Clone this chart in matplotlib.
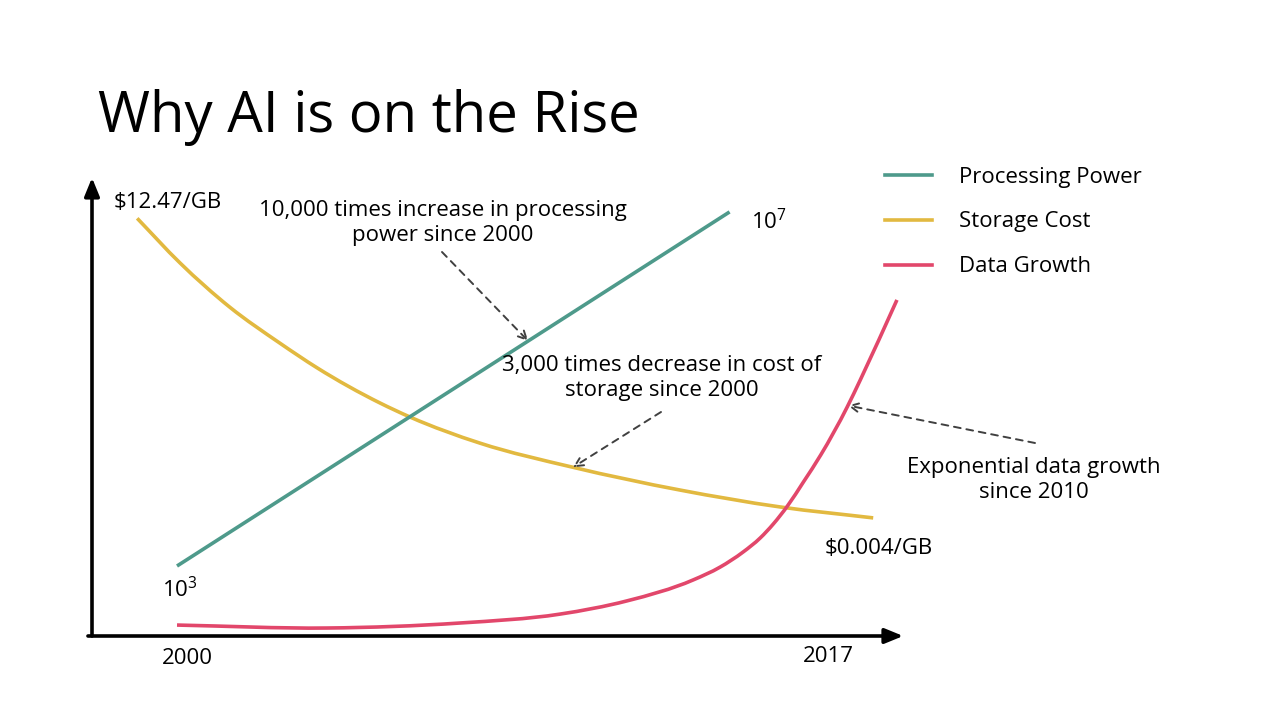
import matplotlib
matplotlib.use("Agg")
import matplotlib.pyplot as plt
from matplotlib.path import Path
from matplotlib.patches import PathPatch
import numpy as np

plt.rcParams['font.family'] = ['Open Sans', 'DejaVu Sans']
plt.rcParams['mathtext.fontset'] = 'custom'
plt.rcParams['mathtext.rm'] = 'Open Sans'

# Series (years, relative level on a 0-100 schematic scale)
power_years = [2000.0, 2014.43]
power_level = [15.35, 93.0]

storage_years = [1998.96, 2000.08, 2001.38, 2002.69, 2003.66, 2005.30, 2006.09,
                 2007.91, 2010.34, 2013.14, 2015.75, 2018.18]
storage_level = [91.6, 81.8, 72.1, 64.2, 58.8, 51.1, 48.0, 42.3, 37.0, 32.0, 28.3, 25.9]

data_years = [2000.0, 2003.92, 2007.39, 2010.0, 2011.75, 2013.48, 2014.18, 2014.78,
              2015.23, 2015.57, 2015.94, 2016.36, 2016.81, 2017.5, 2017.84, 2018.8]
data_level = [2.4, 1.75, 2.85, 4.8, 7.7, 12.3, 15.1, 18.4, 21.5, 24.55, 28.5, 33.8,
              39.7, 50.2, 56.1, 73.7]

series_names = ['Processing Power', 'Storage Cost', 'Data Growth']
colors = ['#4E9A8B', '#E2B940', '#E2476B']

W, H = 1280, 720


def fx(px):
    return px / W


def fy(py):
    return 1 - py / H


def smooth_path(xs, ys, ax):
    # Hermite curve through the points (tangent = weighted mean of neighbour
    # secants), drawn as cubic bezier segments in display space
    pts = ax.transData.transform(np.column_stack([xs, ys]))
    x, y = pts[:, 0], pts[:, 1]
    h = np.diff(x)
    s = np.diff(y) / h
    m = np.empty(len(x))
    m[0], m[-1] = s[0], s[-1]
    for i in range(1, len(x) - 1):
        m[i] = (s[i - 1] * h[i] + s[i] * h[i - 1]) / (h[i] + h[i - 1])
    verts = [pts[0]]
    codes = [Path.MOVETO]
    for i in range(len(x) - 1):
        verts += [(x[i] + h[i] / 3, y[i] + m[i] * h[i] / 3),
                  (x[i + 1] - h[i] / 3, y[i + 1] - m[i + 1] * h[i] / 3),
                  (x[i + 1], y[i + 1])]
        codes += [Path.CURVE4] * 3
    verts = ax.transData.inverted().transform(np.array(verts))
    return Path(verts, codes)


fig = plt.figure(figsize=(12.8, 7.2), dpi=100)
fig.patch.set_facecolor('white')

# plot area: pixels x 92..900, y 180..636
ax = fig.add_axes([fx(92), fy(636), fx(900) - fx(92), fy(180) - fy(636)])
ax.set_xlim(1997.78, 2018.88)
ax.set_ylim(0, 100)
ax.axis('off')

lw = 2.6
ax.plot(power_years, power_level, color=colors[0], lw=lw, solid_capstyle='butt')
ax.add_patch(PathPatch(smooth_path(storage_years, storage_level, ax), fill=False,
                       edgecolor=colors[1], lw=lw, capstyle='butt'))
ax.add_patch(PathPatch(smooth_path(data_years, data_level, ax), fill=False,
                       edgecolor=colors[2], lw=lw, capstyle='butt'))

# axes arrows
arrow_kw = dict(arrowstyle='-|>,head_length=1.1,head_width=0.45', color='black',
                lw=2.6, shrinkA=0, shrinkB=0)
ax.annotate('', xy=(0, 1.005), xytext=(0, 0), xycoords='axes fraction',
            arrowprops=arrow_kw, annotation_clip=False)
ax.annotate('', xy=(1.004, 0), xytext=(-0.005, 0), xycoords='axes fraction',
            arrowprops=arrow_kw, annotation_clip=False)

# title
fig.text(fx(98), fy(132), 'Why AI is on the Rise', fontsize=40.5, va='baseline', ha='left')

fs = 16
fig.text(fx(114), fy(202), '$12.47/GB', fontsize=fs, va='center', ha='left')
fig.text(fx(825), fy(548), '$0.004/GB', fontsize=fs, va='center', ha='left')
fig.text(fx(751), fy(222), r'10$^{7}$', fontsize=fs, va='center', ha='left')
fig.text(fx(162), fy(590), r'10$^{3}$', fontsize=fs, va='center', ha='left')
fig.text(fx(187), fy(658), '2000', fontsize=fs, va='center', ha='center')
fig.text(fx(828), fy(657), '2017', fontsize=fs, va='center', ha='center')

fig.text(fx(443), fy(223), '10,000 times increase in processing\npower since 2000',
         fontsize=fs, va='center', ha='center', linespacing=1.3)
fig.text(fx(662), fy(378), '3,000 times decrease in cost of\nstorage since 2000',
         fontsize=fs, va='center', ha='center', linespacing=1.3)
fig.text(fx(1034), fy(480), 'Exponential data growth\nsince 2010',
         fontsize=fs, va='center', ha='center', linespacing=1.3)

# dashed callout arrows, tips on the curves
dash_kw = dict(arrowstyle='->,head_length=0.6,head_width=0.3', color='#404040',
               lw=1.4, linestyle=(0, (3.5, 3)), shrinkA=0, shrinkB=0)
t1 = 2009.17
ax.annotate('', xy=(t1, np.interp(t1, power_years, power_level)),
            xytext=(fx(442), fy(252)), textcoords='figure fraction',
            arrowprops=dash_kw, annotation_clip=False)
t2 = 2010.34
ax.annotate('', xy=(t2, np.interp(t2, storage_years, storage_level)),
            xytext=(fx(661), fy(412)), textcoords='figure fraction',
            arrowprops=dash_kw, annotation_clip=False)
t3 = 2017.52
ax.annotate('', xy=(t3, np.interp(t3, data_years, data_level)),
            xytext=(fx(1035), fy(443)), textcoords='figure fraction',
            arrowprops=dash_kw, annotation_clip=False)

# legend
for i, (name, c) in enumerate(zip(series_names, colors)):
    yy = fy(175 + 45 * i)
    fig.add_artist(plt.Line2D([fx(885), fx(932)], [yy, yy], color=c, lw=lw))
    fig.text(fx(959), fy(177 + 45 * i), name, fontsize=fs, va='center', ha='left')

fig.savefig('out.png', dpi=100, facecolor='white')
